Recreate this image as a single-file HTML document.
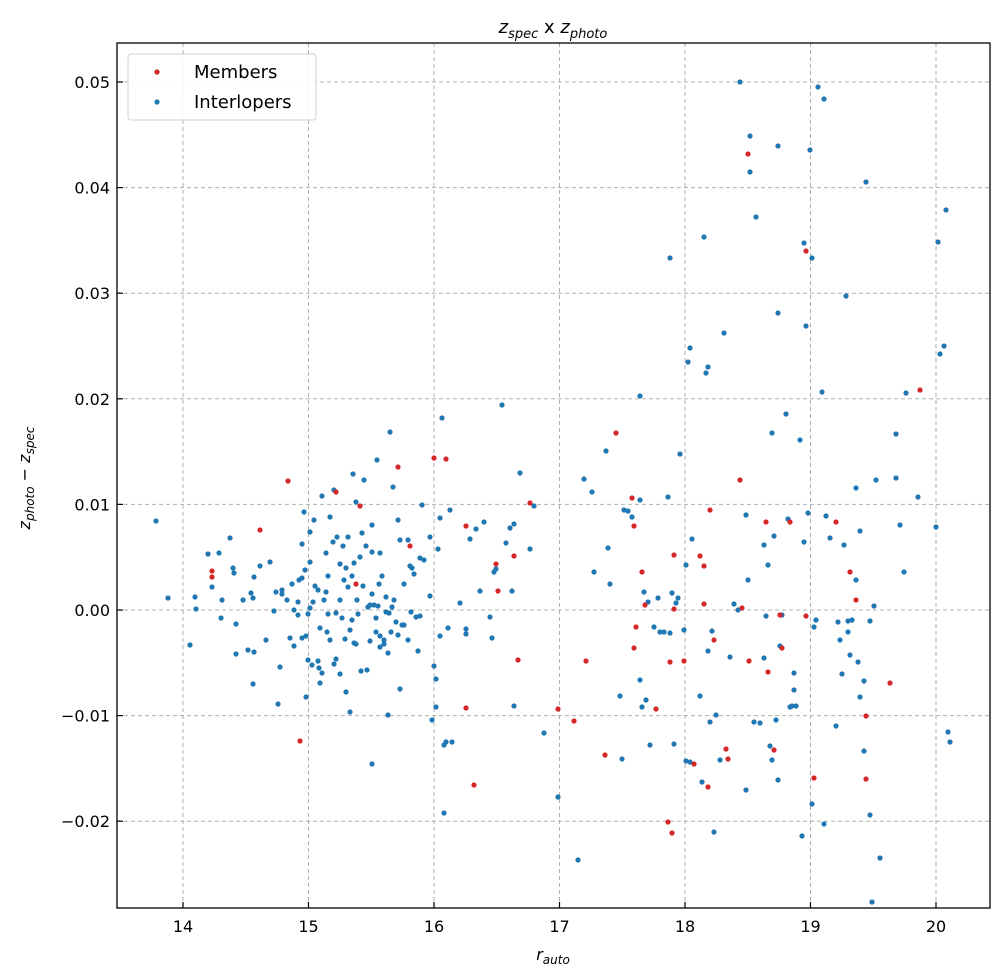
<!DOCTYPE html>
<html><head><meta charset="utf-8"><style>body{margin:0;background:#fff}svg{display:block;font-family:"DejaVu Sans","Liberation Sans",sans-serif}</style></head><body>
<svg id="s" width="1004" height="980" xmlns="http://www.w3.org/2000/svg">
<rect width="1004" height="980" fill="#fff"/>
<g id="grid" stroke="#b0b0b0" stroke-width="1" stroke-dasharray="4,3"></g>
<g id="pts"></g>
<rect x="117" y="43" width="873" height="865" fill="none" stroke="#000" stroke-width="1.3"/>
<g id="ticks" stroke="#000" stroke-width="1.2"></g>
<g id="labels" font-size="16" fill="#000"></g>
<text x="553" y="33" font-size="18" text-anchor="middle"><tspan font-style="italic">z</tspan><tspan font-style="italic" font-size="13" dy="5">spec</tspan><tspan dy="-5"> x </tspan><tspan font-style="italic">z</tspan><tspan font-style="italic" font-size="13" dy="5">photo</tspan></text>
<text x="553" y="960" font-size="16" text-anchor="middle"><tspan font-style="italic">r</tspan><tspan font-style="italic" font-size="12" dy="4">auto</tspan></text>
<text transform="translate(30,478) rotate(-90)" font-size="16" text-anchor="middle"><tspan font-style="italic">z</tspan><tspan font-style="italic" font-size="12" dy="4">photo</tspan><tspan dy="-4"> − </tspan><tspan font-style="italic">z</tspan><tspan font-style="italic" font-size="12" dy="4">spec</tspan></text>
<rect x="128" y="54" width="188" height="66" rx="3" fill="#fff" fill-opacity="0.85" stroke="#d0d0d0"/>
<circle cx="157" cy="72" r="2.6" fill="#d62728"/>
<circle cx="157" cy="102" r="2.6" fill="#1f77b4"/>
<text x="194" y="78" font-size="18">Members</text>
<text x="194" y="108" font-size="18">Interlopers</text>
</svg>
<script>
const NS="http://www.w3.org/2000/svg";
function el(p,t,a,txt){const e=document.createElementNS(NS,t);for(const k in a)e.setAttribute(k,a[k]);if(txt)e.textContent=txt;document.getElementById(p).appendChild(e);}
const xs=[14,15,16,17,18,19,20];
xs.forEach(v=>{const x=183+(v-14)*125.5;el('grid','line',{x1:x,x2:x,y1:43,y2:908});el('ticks','line',{x1:x,x2:x,y1:908,y2:902});el('labels','text',{x:x,y:932,'text-anchor':'middle'},String(v));});
const ys=[0.05,0.04,0.03,0.02,0.01,0,-0.01,-0.02];
ys.forEach(v=>{const y=610-v*10560;el('grid','line',{x1:117,x2:990,y1:y,y2:y});el('ticks','line',{x1:117,x2:123,y1:y,y2:y});el('labels','text',{x:110,y:y+6,'text-anchor':'end'},(v<0?'−':'')+Math.abs(v).toFixed(2));});
const B=[[156,521],[168,598],[190,645],[195,597],[196,609],[208,554],[212,587],[219,553],[221,618],[222,600],[230,538],[233,568],[234,573],[236,624],[236,654],[243,600],[248,650],[251,593],[253,684],[253,598],[254,577],[254,652],[260,566],[266,640],[270,562],[274,611],[276,592],[278,704],[280,667],[282,594],[282,590],[287,600],[290,638],[292,584],[294,610],[294,646],[298,615],[298,602],[299,580],[302,578],[302,544],[302,638],[304,512],[305,570],[306,636],[306,697],[308,660],[308,614],[310,532],[310,608],[310,562],[312,665],[313,602],[314,520],[315,586],[318,661],[318,590],[319,668],[320,628],[320,683],[322,496],[322,673],[324,600],[326,592],[326,553],[327,632],[328,614],[328,576],[330,517],[330,640],[333,542],[334,490],[334,664],[336,613],[336,659],[337,537],[340,564],[340,600],[340,674],[342,618],[343,546],[344,580],[345,639],[346,692],[346,568],[348,537],[348,587],[350,712],[350,630],[352,576],[352,620],[353,474],[354,563],[354,643],[356,644],[356,502],[357,600],[358,614],[360,557],[361,671],[362,533],[363,586],[364,480],[366,546],[367,670],[368,607],[370,605],[370,641],[372,552],[372,594],[372,764],[372,525],[374,605],[376,618],[376,632],[377,460],[378,606],[379,584],[380,636],[380,553],[380,647],[382,576],[384,644],[384,640],[386,612],[386,597],[388,653],[388,715],[389,613],[390,432],[391,632],[392,607],[393,487],[394,600],[396,622],[398,635],[398,520],[400,689],[400,540],[402,625],[404,625],[404,584],[408,540],[408,640],[410,566],[411,612],[412,568],[414,574],[416,617],[418,651],[420,558],[420,616],[422,505],[424,560],[430,537],[430,596],[432,720],[434,666],[436,707],[436,679],[438,549],[440,518],[440,636],[442,418],[444,813],[444,745],[446,742],[448,628],[450,510],[452,742],[460,603],[466,629],[466,634],[470,539],[476,529],[480,591],[484,522],[490,617],[492,638],[494,572],[496,569],[502,405],[506,543],[510,528],[512,591],[514,524],[514,706],[520,473],[530,549],[534,506],[544,733],[558,797],[578,860],[584,479],[592,492],[594,572],[606,451],[608,548],[610,584],[620,696],[622,759],[624,510],[628,511],[632,517],[640,500],[640,396],[640,680],[642,707],[644,592],[646,700],[648,602],[650,745],[654,627],[658,598],[660,632],[664,632],[668,497],[670,258],[670,633],[672,593],[674,744],[676,603],[678,598],[680,454],[684,630],[686,565],[686,761],[688,362],[690,348],[690,762],[692,539],[700,696],[702,782],[704,237],[706,373],[708,367],[708,651],[710,722],[712,631],[714,832],[716,715],[720,760],[724,333],[730,657],[734,604],[738,610],[740,82],[746,790],[746,515],[748,580],[750,136],[750,172],[754,722],[756,217],[760,723],[764,658],[764,545],[766,616],[768,565],[770,746],[772,433],[772,760],[774,536],[776,720],[778,146],[778,313],[778,780],[780,646],[782,615],[786,414],[788,519],[790,707],[792,706],[794,673],[794,690],[796,706],[800,440],[802,836],[804,243],[804,542],[806,326],[808,513],[810,150],[812,258],[812,804],[814,627],[816,620],[818,87],[822,392],[824,99],[824,824],[826,516],[830,538],[836,726],[838,622],[840,640],[842,674],[844,545],[846,296],[848,621],[850,655],[852,620],[856,488],[858,662],[860,697],[860,531],[864,751],[864,681],[866,182],[870,815],[872,902],[874,606],[876,480],[880,858],[896,478],[896,434],[900,525],[906,393],[918,497],[936,527],[940,354],[944,346],[946,210],[948,732],[950,742],[938,242],[904,572],[870,621],[856,580],[848,632]];
const R=[[212,571],[212,577],[260,530],[288,481],[300,741],[336,492],[356,584],[360,506],[398,467],[410,546],[434,458],[446,459],[466,526],[466,708],[474,785],[496,564],[498,591],[514,556],[518,660],[530,503],[558,709],[574,721],[586,661],[605,755],[616,433],[632,498],[634,526],[634,648],[636,627],[642,572],[645,605],[656,709],[668,822],[670,662],[672,833],[674,555],[674,609],[684,661],[694,764],[700,556],[704,566],[704,604],[708,787],[710,510],[714,640],[726,749],[728,759],[740,480],[742,608],[748,154],[749,661],[766,522],[768,672],[774,750],[780,615],[782,648],[790,522],[806,616],[806,251],[814,778],[836,522],[850,572],[856,600],[866,716],[866,779],[920,390],[890,683]];
B.forEach(p=>el('pts','circle',{cx:p[0],cy:p[1],r:2.6,fill:'#1f77b4'}));
R.forEach(p=>el('pts','circle',{cx:p[0],cy:p[1],r:2.6,fill:'#d62728'}));
</script>
</body></html>
